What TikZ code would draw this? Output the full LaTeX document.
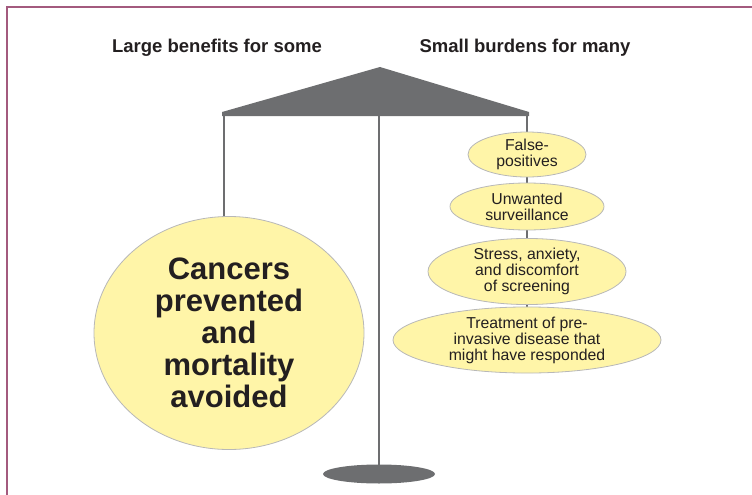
\documentclass[tikz,border=0pt]{standalone}
\usepackage{fontspec}
\setmainfont{Liberation Sans}
\usetikzlibrary{shapes.geometric,backgrounds}
\definecolor{framec}{HTML}{A35A7E}
\definecolor{scalegray}{HTML}{6D6E70}
\definecolor{ellfill}{HTML}{FFF5A8}
\definecolor{ellline}{HTML}{B8B8B8}
\definecolor{txt}{HTML}{231F20}
\tikzset{
  pole/.style={draw=scalegray, line width=2.6pt},
  pan/.style={ellipse, fill=ellfill, draw=ellline, line width=0.8pt, inner sep=0pt, align=center, text=txt},
  smalltxt/.style={font=\fontsize{15.8}{16}\selectfont},
  head/.style={font=\bfseries\fontsize{18.5}{20}\selectfont, text=txt, inner sep=0pt}
}
\begin{document}
\begin{tikzpicture}[x=1pt,y=-1pt]
\useasboundingbox (0,0) rectangle (752,495);
% frame
\draw[framec, line width=1.6pt] (7,496) -- (7,7) -- (753,7);
% headings
\node[head] (h1) at (217,48) {Large benefits for some};
\node[head] (h2) at (525,48) {Small burdens for many};
% beam
\coordinate (apex) at (380,67);
\coordinate (tl) at (224,114);
\coordinate (tr) at (527,114);
\coordinate (tc) at (379,114);
\fill[scalegray] (apex) -- (529,112) -- (529,116) -- (222,116) -- (222,112) -- cycle;
% base
\node[ellipse, fill=scalegray, minimum width=112pt, minimum height=19pt, inner sep=0pt] (base) at (379,474) {};
% pans
\node[pan, minimum width=270pt, minimum height=233pt, font=\bfseries\fontsize{31}{32}\selectfont] (big) at (229,333) {Cancers\\prevented\\and\\mortality\\avoided};
\node[pan, smalltxt, minimum width=118pt, minimum height=45pt] (e1) at (527,154.5) {False-\\positives};
\node[pan, smalltxt, minimum width=154pt, minimum height=47pt] (e2) at (527,206.5) {Unwanted\\surveillance};
\node[pan, smalltxt, minimum width=198pt, minimum height=63pt] (e3) at (527,271.5) {Stress, anxiety,\\and discomfort\\of screening};
\node[pan, smalltxt, minimum width=268pt, minimum height=62pt] (e4) at (527,340) {Treatment of pre-\\invasive disease that\\might have responded};
% strings
\begin{scope}[on background layer]
\draw[pole] (tl) -- (tl |- big.center);
\draw[pole] (tc) -- (base.center);
\draw[pole] (tr) -- (e1.north);
\draw[pole] (e1.south) -- (e2.north);
\draw[pole] (e2.south) -- (e3.north);
\draw[pole] (e3.south) -- (e4.north);
\end{scope}
\end{tikzpicture}
\end{document}
